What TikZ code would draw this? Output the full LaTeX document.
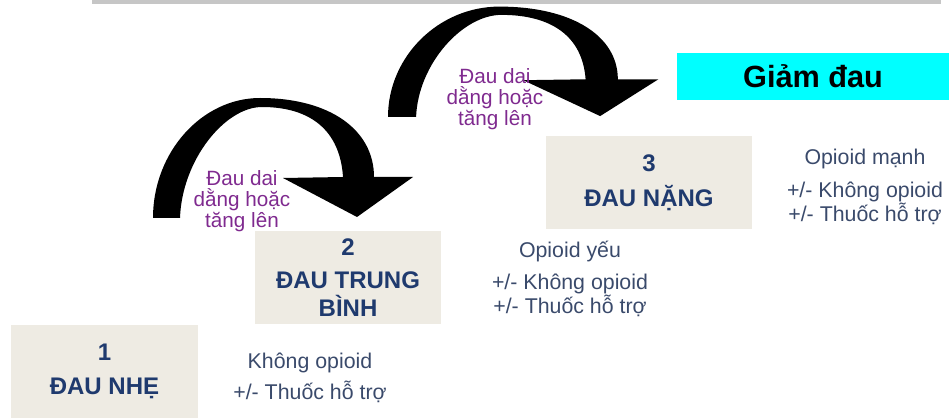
\documentclass[tikz,border=0pt]{standalone}
\usepackage{fontspec}
\setmainfont{Liberation Sans}
\usepackage{tikz}
\usetikzlibrary{arrows.meta}
\usepackage{xcolor}
\definecolor{boxfill}{HTML}{EEEBE3}
\definecolor{boxtext}{HTML}{1F3A6E}
\definecolor{notetext}{HTML}{3A4A6B}
\definecolor{labelpurple}{HTML}{7F2A8F}
\definecolor{reliefcyan}{HTML}{00FFFF}
\tikzset{
  bentarrow/.pic={
    \fill[black] (0,0) .. controls (0,-66) and (49,-120) .. (107,-120)
      .. controls (177,-120) and (221,-88) .. (221,-41)
      -- (260,-41) -- (204,-1) -- (130,-40) -- (190,-41)
      .. controls (187,-88) and (157,-111) .. (109,-111)
      .. controls (72,-111) and (29,-58) .. (27,0) -- cycle;
  }
}

\begin{document}
\begin{tikzpicture}[x=0.75pt, y=-0.75pt,
    stepbox/.style={fill=boxfill, minimum width=140pt, minimum height=69.75pt,
      align=center, text=boxtext, font=\fontsize{18}{21}\selectfont\bfseries},
    note/.style={align=center, text=notetext, font=\fontsize{16}{18}\selectfont},
    steplabel/.style={align=center, text=labelpurple, font=\fontsize{15.5}{16}\selectfont}]
    \useasboundingbox (0,0) rectangle (949,420);
    % thanh xam phia tren
    \fill[gray!45] (92,0) rectangle (941,4);

    % cac bac thang
    \node[stepbox] (mild) at (104.5,371.5) {1\\[4pt]ĐAU NHẸ};
    \node[stepbox] (moderate) at (348,277.5) {2\\[4pt]ĐAU TRUNG\\BÌNH};
    \node[stepbox, minimum width=154.5pt] (severe) at (649,182.5) {3\\[5pt]ĐAU NẶNG};
    \node[fill=reliefcyan, minimum width=204pt, minimum height=35.25pt,
      font=\fontsize{23}{26}\selectfont\bfseries] (relief) at (813,76.5) {Giảm đau};

    % thuoc tung bac
    \node[note] (drug1) at (310,378) {Không opioid\\[5pt]+/- Thuốc hỗ trợ};
    \node[note] (drug2) at (570,279) {Opioid yếu\\[6pt]+/- Không opioid\\+/- Thuốc hỗ trợ};
    \node[note] (drug3) at (865,187) {Opioid mạnh\\[7pt]+/- Không opioid\\+/- Thuốc hỗ trợ};

    % mui ten cong
    \pic at (153,218) {bentarrow};
    \pic[xscale=1.04, yscale=0.92] at (388,117) {bentarrow};
    \node[steplabel] (up1) at (242,201) {Đau dai\\dằng hoặc\\tăng lên};
    \node[steplabel] (up2) at (495,99) {Đau dai\\dằng hoặc\\tăng lên};
\end{tikzpicture}
\end{document}
